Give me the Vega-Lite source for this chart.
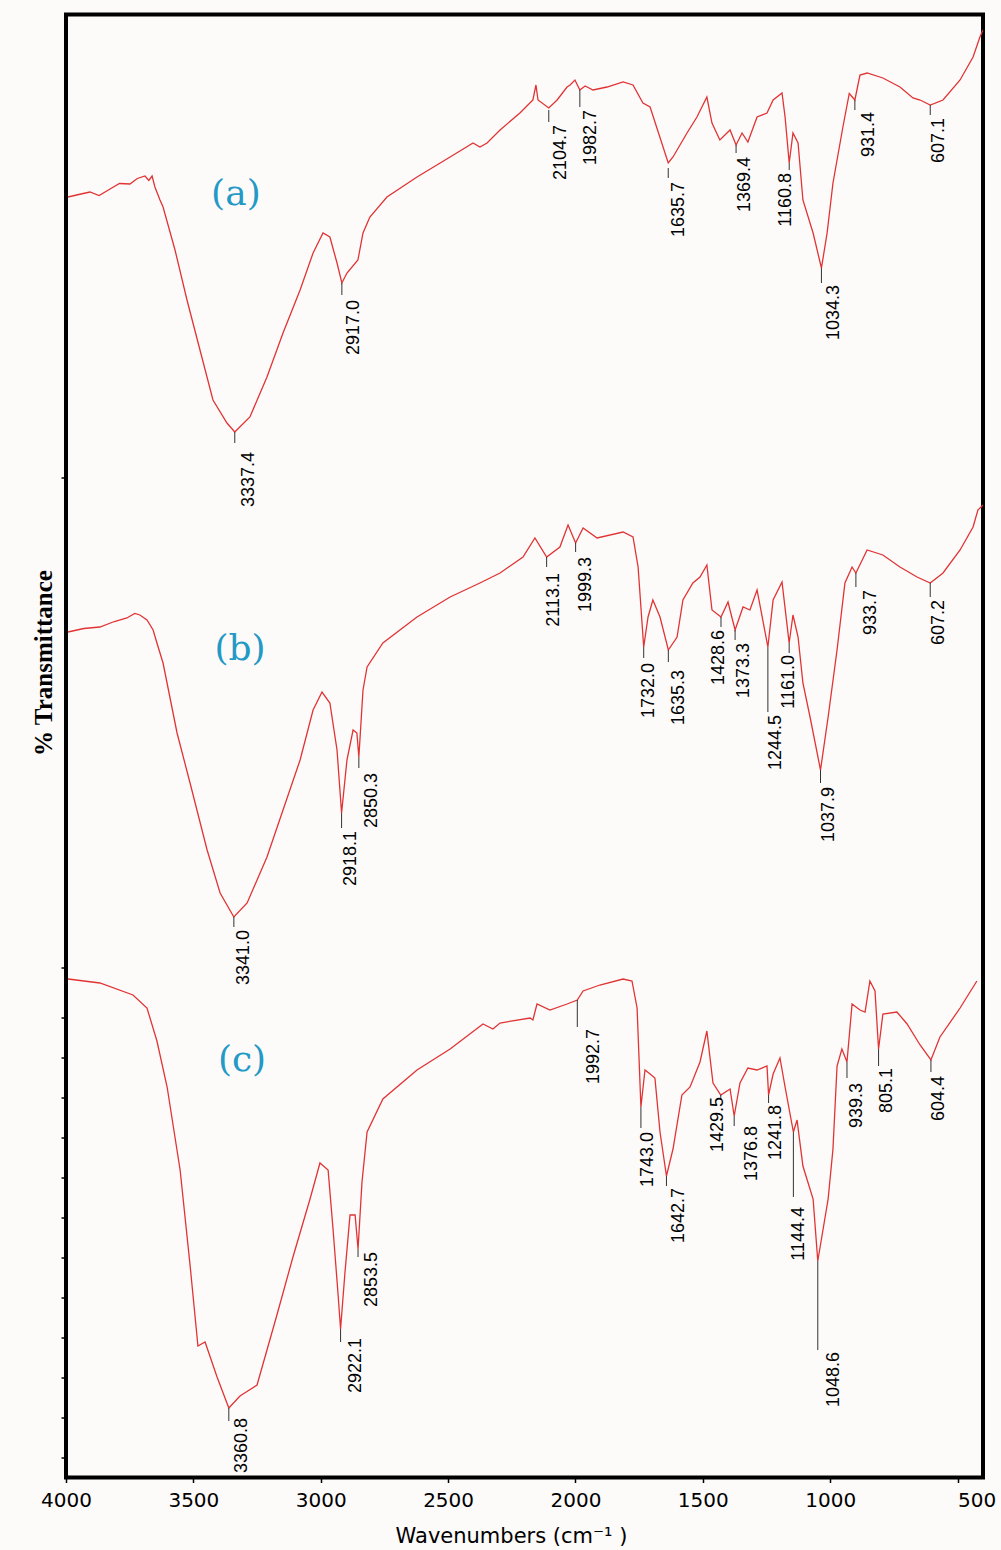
{
  "$schema": "https://vega.github.io/schema/vega-lite/v6.json",
  "width": 917,
  "height": 1463,
  "autosize": {"type": "none"},
  "padding": {"left": 66, "top": 14.5, "right": 18, "bottom": 72.5},
  "background": "#fdfafa",
  "view": {"stroke": "black", "strokeWidth": 4, "fill": "#fdfafa"},
  "config": {
    "axisX": {
      "domain": false, "grid": false,
      "ticks": true, "tickSize": 5, "tickWidth": 1.5, "tickColor": "black",
      "labelFont": "DejaVu Sans", "labelFontSize": 20, "labelColor": "black",
      "labelPadding": 8, "labelFlush": false, "labelOverlap": false,
      "titleFont": "DejaVu Sans", "titleFontSize": 21, "titleFontWeight": "normal", "titleColor": "black",
      "titleX": 445, "titleY": 65, "titleAlign": "center", "titleBaseline": "alphabetic"
    },
    "axisY": {
      "labels": false, "domain": false, "grid": false,
      "ticks": true, "tickSize": 5, "tickWidth": 1.5, "tickColor": "black",
      "titleFont": "Liberation Serif", "titleFontSize": 25, "titleFontWeight": "bold", "titleColor": "black",
      "titleAngle": 270, "titleX": -23, "titleY": 648, "titleAlign": "center", "titleBaseline": "middle"
    }
  },
  "datasets": {
    "spec": [
      {"s":"a","wn":3992,"t":128.05},{"s":"a","wn":3950,"t":128.3},{"s":"a","wn":3906,"t":128.55},{"s":"a","wn":3870,"t":128.2},{"s":"a","wn":3827,"t":128.85},{"s":"a","wn":3790,"t":129.4},{"s":"a","wn":3749,"t":129.35},{"s":"a","wn":3720,"t":129.9},{"s":"a","wn":3690,"t":130.15},{"s":"a","wn":3675,"t":129.7},{"s":"a","wn":3662,"t":130.15},{"s":"a","wn":3651,"t":129.05},{"s":"a","wn":3631,"t":127.75},{"s":"a","wn":3619,"t":127.05},{"s":"a","wn":3572,"t":122.75},{"s":"a","wn":3525,"t":117.75},{"s":"a","wn":3474,"t":112.75},{"s":"a","wn":3423,"t":107.75},{"s":"a","wn":3368,"t":105.45},{"s":"a","wn":3337.4,"t":104.55},{"s":"a","wn":3278,"t":106.05},{"s":"a","wn":3211,"t":110.05},{"s":"a","wn":3148,"t":114.45},{"s":"a","wn":3081,"t":118.75},{"s":"a","wn":3030,"t":122.45},{"s":"a","wn":2991,"t":124.45},{"s":"a","wn":2964,"t":124.05},{"s":"a","wn":2936,"t":121.45},{"s":"a","wn":2917,"t":119.45},{"s":"a","wn":2897,"t":120.45},{"s":"a","wn":2854,"t":121.75},{"s":"a","wn":2834,"t":124.45},{"s":"a","wn":2807,"t":126.05},{"s":"a","wn":2740,"t":128.05},{"s":"a","wn":2622,"t":130.05},{"s":"a","wn":2492,"t":132.05},{"s":"a","wn":2402,"t":133.45},{"s":"a","wn":2375,"t":133.05},{"s":"a","wn":2347,"t":133.45},{"s":"a","wn":2296,"t":134.75},{"s":"a","wn":2218,"t":136.45},{"s":"a","wn":2167,"t":137.75},{"s":"a","wn":2155,"t":139.25},{"s":"a","wn":2147,"t":137.75},{"s":"a","wn":2104.7,"t":136.95},{"s":"a","wn":2072,"t":137.75},{"s":"a","wn":2033,"t":139.05},{"s":"a","wn":2021,"t":139.25},{"s":"a","wn":2002,"t":139.75},{"s":"a","wn":1982.7,"t":138.75},{"s":"a","wn":1962,"t":139.15},{"s":"a","wn":1931,"t":138.75},{"s":"a","wn":1876,"t":139.05},{"s":"a","wn":1813,"t":139.55},{"s":"a","wn":1774,"t":139.25},{"s":"a","wn":1735,"t":137.45},{"s":"a","wn":1707,"t":137.05},{"s":"a","wn":1635.7,"t":131.45},{"s":"a","wn":1617,"t":132.05},{"s":"a","wn":1562,"t":134.45},{"s":"a","wn":1523,"t":136.05},{"s":"a","wn":1484,"t":138.05},{"s":"a","wn":1464,"t":135.45},{"s":"a","wn":1433,"t":133.75},{"s":"a","wn":1393,"t":134.75},{"s":"a","wn":1369.4,"t":133.25},{"s":"a","wn":1346,"t":134.45},{"s":"a","wn":1323,"t":133.55},{"s":"a","wn":1287,"t":136.05},{"s":"a","wn":1248,"t":136.45},{"s":"a","wn":1224,"t":137.75},{"s":"a","wn":1189,"t":138.45},{"s":"a","wn":1177,"t":136.05},{"s":"a","wn":1160.8,"t":131.45},{"s":"a","wn":1146,"t":134.45},{"s":"a","wn":1126,"t":133.45},{"s":"a","wn":1107,"t":127.75},{"s":"a","wn":1067,"t":124.45},{"s":"a","wn":1034.3,"t":120.95},{"s":"a","wn":1012,"t":124.45},{"s":"a","wn":989,"t":129.45},{"s":"a","wn":950,"t":135.05},{"s":"a","wn":925,"t":138.4},{"s":"a","wn":903,"t":137.75},{"s":"a","wn":883,"t":140.25},{"s":"a","wn":855,"t":140.45},{"s":"a","wn":793,"t":139.95},{"s":"a","wn":726,"t":139.05},{"s":"a","wn":675,"t":137.95},{"s":"a","wn":647,"t":137.75},{"s":"a","wn":607.1,"t":137.25},{"s":"a","wn":557,"t":137.75},{"s":"a","wn":490,"t":139.75},{"s":"a","wn":439,"t":142.05},{"s":"a","wn":412,"t":144.05},{"s":"a","wn":400,"t":144.75},

      {"s":"b","wn":3992,"t":84.55},{"s":"b","wn":3930,"t":84.9},{"s":"b","wn":3867,"t":85.05},{"s":"b","wn":3810,"t":85.6},{"s":"b","wn":3761,"t":85.95},{"s":"b","wn":3730,"t":86.4},{"s":"b","wn":3710,"t":86.25},{"s":"b","wn":3682,"t":85.75},{"s":"b","wn":3658,"t":84.75},{"s":"b","wn":3643,"t":83.45},{"s":"b","wn":3619,"t":81.45},{"s":"b","wn":3564,"t":74.45},{"s":"b","wn":3513,"t":69.45},{"s":"b","wn":3446,"t":62.75},{"s":"b","wn":3395,"t":58.45},{"s":"b","wn":3341,"t":56.05},{"s":"b","wn":3289,"t":57.45},{"s":"b","wn":3211,"t":62.05},{"s":"b","wn":3148,"t":66.75},{"s":"b","wn":3081,"t":71.75},{"s":"b","wn":3030,"t":76.75},{"s":"b","wn":2995,"t":78.55},{"s":"b","wn":2964,"t":77.45},{"s":"b","wn":2936,"t":72.75},{"s":"b","wn":2918.1,"t":66.45},{"s":"b","wn":2897,"t":71.75},{"s":"b","wn":2873,"t":74.75},{"s":"b","wn":2858,"t":74.45},{"s":"b","wn":2850.3,"t":72.05},{"s":"b","wn":2834,"t":78.75},{"s":"b","wn":2818,"t":81.05},{"s":"b","wn":2756,"t":83.45},{"s":"b","wn":2622,"t":86.05},{"s":"b","wn":2492,"t":88.05},{"s":"b","wn":2375,"t":89.45},{"s":"b","wn":2296,"t":90.45},{"s":"b","wn":2206,"t":92.05},{"s":"b","wn":2159,"t":93.95},{"s":"b","wn":2113.1,"t":92.05},{"s":"b","wn":2061,"t":93.05},{"s":"b","wn":2029,"t":95.25},{"s":"b","wn":1999.3,"t":93.45},{"s":"b","wn":1970,"t":94.95},{"s":"b","wn":1915,"t":93.95},{"s":"b","wn":1813,"t":94.55},{"s":"b","wn":1774,"t":94.05},{"s":"b","wn":1754,"t":91.05},{"s":"b","wn":1732,"t":83.05},{"s":"b","wn":1715,"t":86.05},{"s":"b","wn":1696,"t":87.75},{"s":"b","wn":1668,"t":86.05},{"s":"b","wn":1635.3,"t":82.75},{"s":"b","wn":1601,"t":84.05},{"s":"b","wn":1578,"t":87.75},{"s":"b","wn":1539,"t":89.45},{"s":"b","wn":1511,"t":90.05},{"s":"b","wn":1484,"t":91.25},{"s":"b","wn":1464,"t":86.75},{"s":"b","wn":1428.6,"t":86.05},{"s":"b","wn":1401,"t":87.55},{"s":"b","wn":1373.3,"t":84.75},{"s":"b","wn":1342,"t":87.05},{"s":"b","wn":1315,"t":86.75},{"s":"b","wn":1287,"t":88.75},{"s":"b","wn":1244.5,"t":83.05},{"s":"b","wn":1224,"t":87.75},{"s":"b","wn":1189,"t":89.55},{"s":"b","wn":1161,"t":83.45},{"s":"b","wn":1146,"t":86.25},{"s":"b","wn":1126,"t":84.05},{"s":"b","wn":1107,"t":79.45},{"s":"b","wn":1079,"t":76.05},{"s":"b","wn":1037.9,"t":70.75},{"s":"b","wn":1008,"t":76.05},{"s":"b","wn":973,"t":82.75},{"s":"b","wn":942,"t":89.45},{"s":"b","wn":914,"t":91.05},{"s":"b","wn":899,"t":90.45},{"s":"b","wn":855,"t":92.75},{"s":"b","wn":793,"t":92.25},{"s":"b","wn":726,"t":91.05},{"s":"b","wn":659,"t":90.05},{"s":"b","wn":607.2,"t":89.45},{"s":"b","wn":557,"t":90.45},{"s":"b","wn":490,"t":92.75},{"s":"b","wn":439,"t":95.05},{"s":"b","wn":420,"t":96.75},{"s":"b","wn":400,"t":97.25},

      {"s":"c","wn":3992,"t":49.85},{"s":"c","wn":3867,"t":49.45},{"s":"c","wn":3737,"t":48.25},{"s":"c","wn":3682,"t":46.95},{"s":"c","wn":3643,"t":43.65},{"s":"c","wn":3603,"t":39.05},{"s":"c","wn":3552,"t":30.75},{"s":"c","wn":3513,"t":21.25},{"s":"c","wn":3482,"t":13.15},{"s":"c","wn":3454,"t":13.55},{"s":"c","wn":3407,"t":10.05},{"s":"c","wn":3360.8,"t":6.95},{"s":"c","wn":3317,"t":8.15},{"s":"c","wn":3250,"t":9.25},{"s":"c","wn":3172,"t":16.25},{"s":"c","wn":3109,"t":22.05},{"s":"c","wn":3042,"t":27.85},{"s":"c","wn":3003,"t":31.45},{"s":"c","wn":2971,"t":30.75},{"s":"c","wn":2952,"t":24.95},{"s":"c","wn":2932,"t":18.35},{"s":"c","wn":2922.1,"t":14.85},{"s":"c","wn":2905,"t":20.45},{"s":"c","wn":2885,"t":26.25},{"s":"c","wn":2865,"t":26.25},{"s":"c","wn":2853.5,"t":22.85},{"s":"c","wn":2838,"t":29.55},{"s":"c","wn":2818,"t":34.55},{"s":"c","wn":2756,"t":37.85},{"s":"c","wn":2622,"t":40.75},{"s":"c","wn":2492,"t":42.85},{"s":"c","wn":2363,"t":45.35},{"s":"c","wn":2324,"t":44.85},{"s":"c","wn":2296,"t":45.45},{"s":"c","wn":2178,"t":45.95},{"s":"c","wn":2167,"t":45.75},{"s":"c","wn":2151,"t":47.35},{"s":"c","wn":2100,"t":46.75},{"s":"c","wn":2033,"t":47.35},{"s":"c","wn":1992.7,"t":47.75},{"s":"c","wn":1970,"t":48.65},{"s":"c","wn":1904,"t":49.25},{"s":"c","wn":1813,"t":49.85},{"s":"c","wn":1778,"t":49.65},{"s":"c","wn":1758,"t":46.95},{"s":"c","wn":1743,"t":37.05},{"s":"c","wn":1727,"t":40.75},{"s":"c","wn":1707,"t":40.35},{"s":"c","wn":1688,"t":39.95},{"s":"c","wn":1668,"t":34.55},{"s":"c","wn":1642.7,"t":30.15},{"s":"c","wn":1617,"t":32.85},{"s":"c","wn":1582,"t":38.25},{"s":"c","wn":1550,"t":39.05},{"s":"c","wn":1511,"t":41.55},{"s":"c","wn":1484,"t":44.65},{"s":"c","wn":1460,"t":39.45},{"s":"c","wn":1429.5,"t":38.25},{"s":"c","wn":1393,"t":38.85},{"s":"c","wn":1376.8,"t":36.15},{"s":"c","wn":1354,"t":39.45},{"s":"c","wn":1323,"t":40.95},{"s":"c","wn":1287,"t":40.75},{"s":"c","wn":1248,"t":41.15},{"s":"c","wn":1241.8,"t":38.25},{"s":"c","wn":1224,"t":40.35},{"s":"c","wn":1197,"t":41.95},{"s":"c","wn":1177,"t":39.05},{"s":"c","wn":1144.4,"t":34.55},{"s":"c","wn":1130,"t":35.75},{"s":"c","wn":1107,"t":31.15},{"s":"c","wn":1067,"t":27.85},{"s":"c","wn":1048.6,"t":21.65},{"s":"c","wn":1008,"t":27.85},{"s":"c","wn":989,"t":32.85},{"s":"c","wn":973,"t":41.15},{"s":"c","wn":954,"t":42.85},{"s":"c","wn":934,"t":41.55},{"s":"c","wn":914,"t":47.35},{"s":"c","wn":883,"t":46.75},{"s":"c","wn":863,"t":46.55},{"s":"c","wn":844,"t":49.65},{"s":"c","wn":824,"t":48.65},{"s":"c","wn":810,"t":42.85},{"s":"c","wn":793,"t":46.35},{"s":"c","wn":738,"t":46.55},{"s":"c","wn":698,"t":45.35},{"s":"c","wn":647,"t":43.25},{"s":"c","wn":604.4,"t":41.75},{"s":"c","wn":569,"t":44.05},{"s":"c","wn":490,"t":46.95},{"s":"c","wn":424,"t":49.65}
    ],
    "peaks": [
      {"lbl":"3337.4","wn":3337.4,"tx":3317,"y1":104.55,"y2":103.45,"ty":102.55},
      {"lbl":"2917.0","wn":2917,"tx":2905,"y1":119.45,"y2":118.25,"ty":117.75},
      {"lbl":"2104.7","wn":2104.7,"tx":2092,"y1":136.75,"y2":135.55,"ty":135.25},
      {"lbl":"1982.7","wn":1982.7,"tx":1974,"y1":138.75,"y2":137.05,"ty":136.75},
      {"lbl":"1635.7","wn":1635.7,"tx":1629,"y1":130.95,"y2":129.95,"ty":129.55},
      {"lbl":"1369.4","wn":1369.4,"tx":1370,"y1":133.25,"y2":132.45,"ty":132.05},
      {"lbl":"1160.8","wn":1160.8,"tx":1209,"y1":131.45,"y2":130.75,"ty":130.45},
      {"lbl":"1034.3","wn":1034.3,"tx":1020,"y1":120.95,"y2":119.45,"ty":119.25},
      {"lbl":"931.4","wn":903,"tx":883,"y1":137.75,"y2":136.75,"ty":136.55},
      {"lbl":"607.1","wn":607.1,"tx":608,"y1":137.25,"y2":136.25,"ty":135.95},
      {"lbl":"3341.0","wn":3341,"tx":3337,"y1":56.05,"y2":55.05,"ty":54.75},
      {"lbl":"2918.1","wn":2918.1,"tx":2917,"y1":66.45,"y2":64.95,"ty":64.65},
      {"lbl":"2850.3","wn":2850.3,"tx":2834,"y1":72.05,"y2":70.95,"ty":70.45},
      {"lbl":"2113.1","wn":2113.1,"tx":2120,"y1":92.05,"y2":91.05,"ty":90.45},
      {"lbl":"1999.3","wn":1999.3,"tx":1994,"y1":93.45,"y2":92.55,"ty":92.05},
      {"lbl":"1732.0","wn":1732,"tx":1747,"y1":83.05,"y2":81.95,"ty":81.45},
      {"lbl":"1635.3","wn":1635.3,"tx":1629,"y1":82.75,"y2":81.55,"ty":80.75},
      {"lbl":"1428.6","wn":1428.6,"tx":1472,"y1":86.05,"y2":85.05,"ty":84.75},
      {"lbl":"1373.3","wn":1373.3,"tx":1374,"y1":84.75,"y2":83.75,"ty":83.45},
      {"lbl":"1244.5","wn":1244.5,"tx":1248,"y1":83.05,"y2":76.55,"ty":76.25},
      {"lbl":"1161.0","wn":1161,"tx":1197,"y1":83.45,"y2":82.45,"ty":82.25},
      {"lbl":"1037.9","wn":1037.9,"tx":1040,"y1":70.75,"y2":69.45,"ty":69.05},
      {"lbl":"933.7","wn":899,"tx":875,"y1":90.45,"y2":89.05,"ty":88.75},
      {"lbl":"607.2","wn":607.2,"tx":608,"y1":89.45,"y2":88.05,"ty":87.75},
      {"lbl":"3360.8","wn":3360.8,"tx":3344,"y1":6.95,"y2":5.65,"ty":5.95},
      {"lbl":"2922.1","wn":2922.1,"tx":2897,"y1":14.85,"y2":13.55,"ty":13.95},
      {"lbl":"2853.5","wn":2853.5,"tx":2834,"y1":22.85,"y2":22.05,"ty":22.55},
      {"lbl":"1992.7","wn":1992.7,"tx":1963,"y1":47.75,"y2":45.05,"ty":44.85},
      {"lbl":"1743.0","wn":1743,"tx":1751,"y1":37.05,"y2":34.95,"ty":34.55},
      {"lbl":"1642.7","wn":1642.7,"tx":1629,"y1":30.15,"y2":29.15,"ty":28.95},
      {"lbl":"1429.5","wn":1429.5,"tx":1476,"y1":38.25,"y2":37.75,"ty":38.05},
      {"lbl":"1376.8","wn":1376.8,"tx":1342,"y1":36.15,"y2":35.15,"ty":35.15},
      {"lbl":"1241.8","wn":1241.8,"tx":1248,"y1":38.25,"y2":37.45,"ty":37.25},
      {"lbl":"1144.4","wn":1144.4,"tx":1158,"y1":34.55,"y2":28.05,"ty":27.05},
      {"lbl":"1048.6","wn":1048.6,"tx":1020,"y1":21.65,"y2":12.75,"ty":12.55},
      {"lbl":"939.3","wn":934,"tx":930,"y1":41.55,"y2":39.95,"ty":39.45},
      {"lbl":"805.1","wn":810,"tx":812,"y1":42.85,"y2":41.15,"ty":40.95},
      {"lbl":"604.4","wn":604.4,"tx":608,"y1":41.75,"y2":40.55,"ty":40.15}
    ],
    "panels": [
      {"p":"(a)","wn":3333,"t":128.35},
      {"p":"(b)","wn":3317,"t":82.85},
      {"p":"(c)","wn":3309,"t":41.75}
    ]
  },
  "layer": [
    {
      "data": {"name": "spec"},
      "mark": {"type": "line", "color": "#e03434", "strokeWidth": 1.3, "clip": true},
      "encoding": {
        "x": {
          "field": "wn", "type": "quantitative", "title": "Wavenumbers (cm\u207b\u00b9 )",
          "scale": {"domain": [4000, 400], "nice": false, "zero": false},
          "axis": {
            "values": [4000, 3500, 3000, 2500, 2000, 1500, 1000, 500],
            "format": "d",
            "labelAlign": {"condition": {"test": "datum.value === 500", "value": "left"}, "value": "center"}
          }
        },
        "y": {
          "field": "t", "type": "quantitative", "title": "% Transmittance",
          "scale": {"domain": [0, 146.3], "nice": false, "zero": false},
          "axis": {
            "values": [2, 6, 10, 14, 18, 22, 26, 30, 34, 38, 42, 46, 51, 100]
          }
        },
        "detail": {"field": "s", "type": "nominal"}
      }
    },
    {
      "data": {"name": "peaks"},
      "mark": {"type": "rule", "color": "#333333", "strokeWidth": 1},
      "encoding": {
        "x": {"field": "wn", "type": "quantitative", "title": "Wavenumbers (cm\u207b\u00b9 )"},
        "y": {"field": "y1", "type": "quantitative", "title": "% Transmittance"},
        "y2": {"field": "y2"}
      }
    },
    {
      "data": {"name": "peaks"},
      "mark": {"type": "text", "angle": 270, "align": "right", "baseline": "top", "dy": 0,
               "font": "Liberation Sans", "fontSize": 18, "color": "black"},
      "encoding": {
        "x": {"field": "tx", "type": "quantitative", "title": "Wavenumbers (cm\u207b\u00b9 )"},
        "y": {"field": "ty", "type": "quantitative", "title": "% Transmittance"},
        "text": {"field": "lbl", "type": "nominal"}
      }
    },
    {
      "data": {"name": "panels"},
      "mark": {"type": "text", "align": "center", "baseline": "middle",
               "font": "DejaVu Serif", "fontSize": 36, "color": "#2399c6"},
      "encoding": {
        "x": {"field": "wn", "type": "quantitative", "title": "Wavenumbers (cm\u207b\u00b9 )"},
        "y": {"field": "t", "type": "quantitative", "title": "% Transmittance"},
        "text": {"field": "p", "type": "nominal"}
      }
    }
  ]
}
